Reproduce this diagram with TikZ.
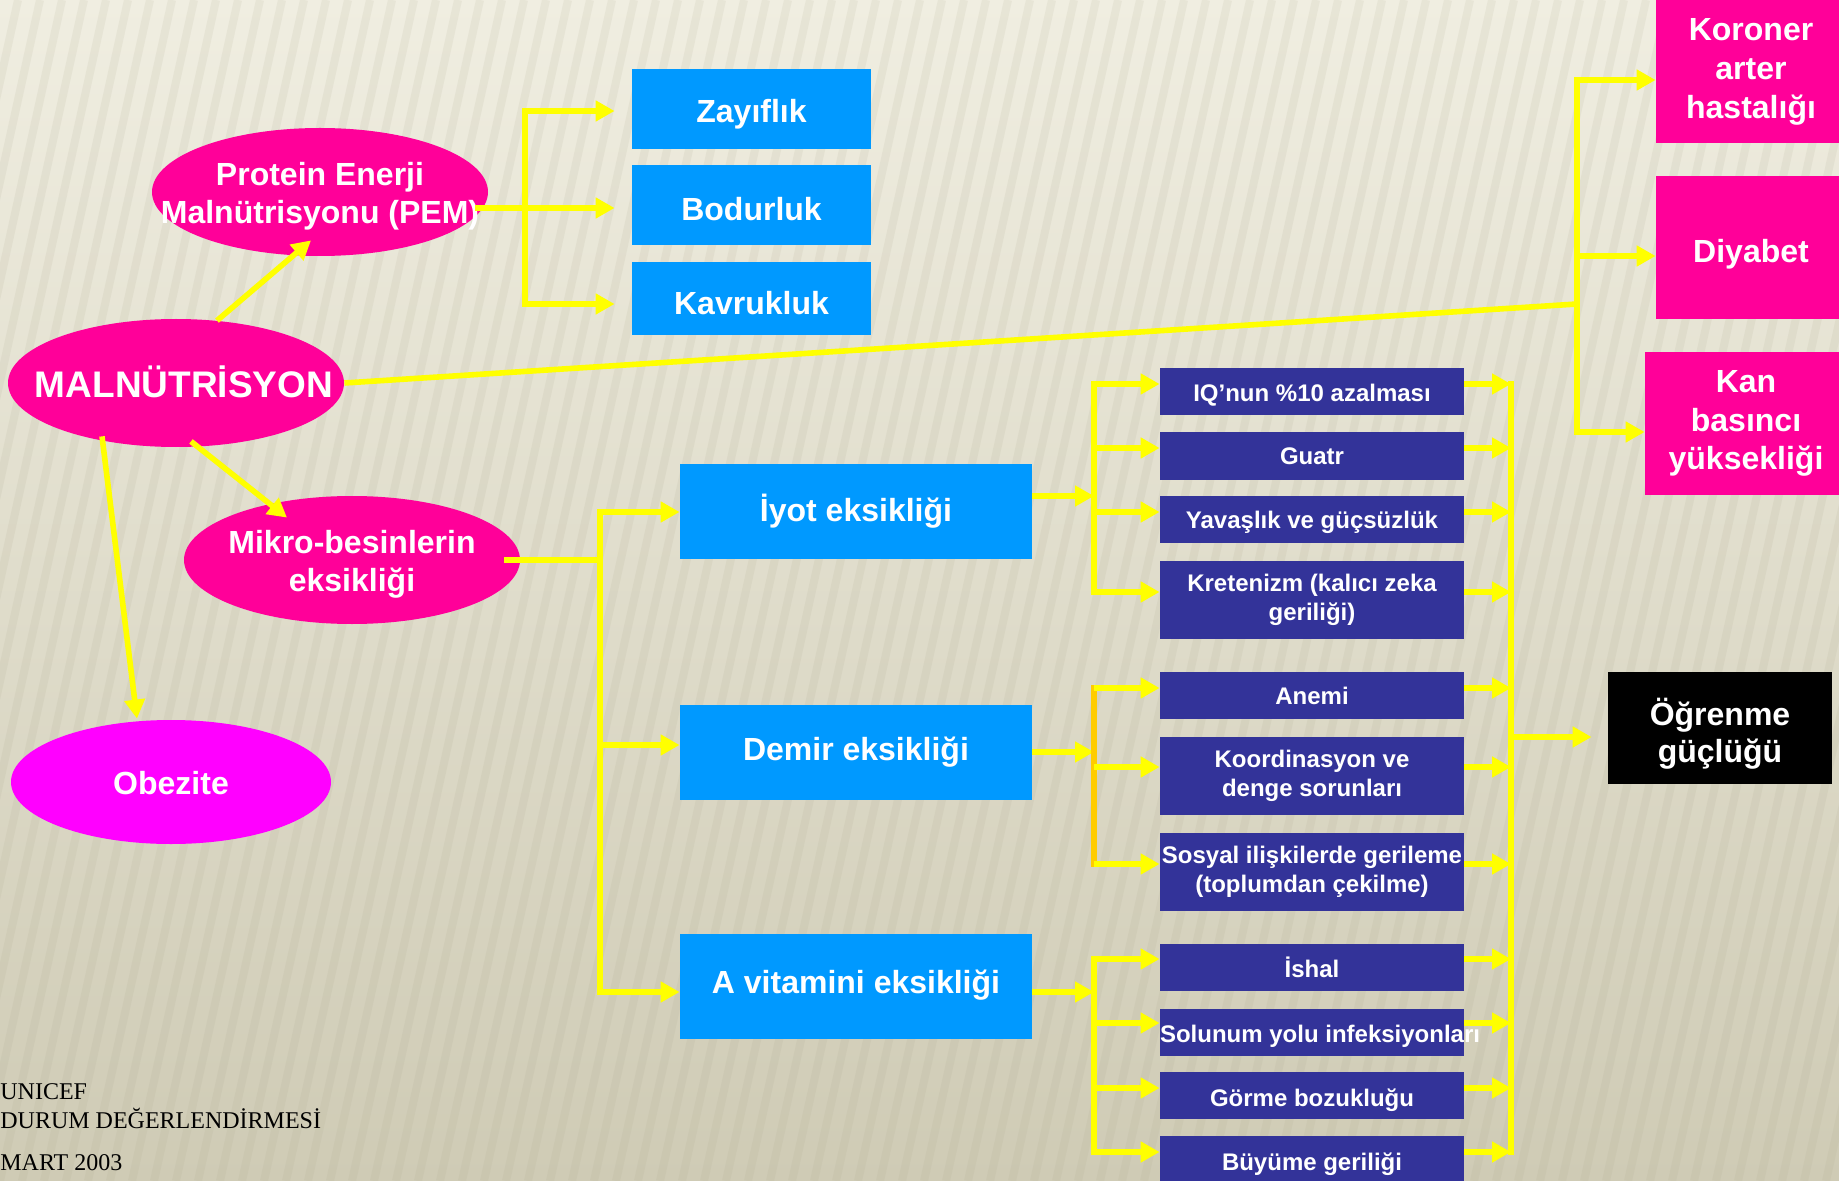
\documentclass[tikz,border=0pt]{standalone}
\usepackage{fontspec}
\setmainfont{Liberation Sans}
\newfontfamily\footserif{Liberation Serif}
\usetikzlibrary{arrows.meta,shapes.geometric,calc}
\definecolor{yel}{HTML}{FFFF00}
\definecolor{orl}{HTML}{FFCC00}
\definecolor{boxblue}{HTML}{0099FF}
\definecolor{navyb}{HTML}{333399}
\definecolor{pinkc}{HTML}{FF0099}
\definecolor{magc}{HTML}{FF00FF}
\definecolor{bgtop}{HTML}{F0EEE1}
\definecolor{bgmid}{HTML}{E5E2D0}
\definecolor{bgbot}{HTML}{CFCBB5}
\definecolor{stripec}{HTML}{A8A48A}
\newcommand\cbx[1]{\makebox[0pt]{\begin{tabular}{@{}c@{}}#1\end{tabular}}}
\newcommand\dn[2]{\raisebox{-#1}[\height][\depth]{#2}}
\newcommand\ebx[1]{\makebox[0pt]{\dn{2.4pt}{\begin{tabular}{@{}c@{}}#1\end{tabular}}}}
\begin{document}
\begin{tikzpicture}[x=0.5pt,y=-0.5pt,
 ln/.style={draw=yel,line width=2.8pt,line cap=rect},
 arr/.style={draw=yel,line width=2.8pt,-{Triangle[length=9.5pt,width=10pt]}},
 bigf/.style={font=\fontsize{16}{19}\selectfont\bfseries},
 bbox/.style={rectangle,fill=boxblue,text=white,inner sep=0pt,bigf},
 nbox/.style={rectangle,fill=navyb,text=white,inner sep=0pt,minimum width=152pt,font=\fontsize{12}{14.5}\selectfont\bfseries},
 pbox/.style={rectangle,fill=pinkc,text=white,inner sep=0pt,align=center,font=\fontsize{16}{19.4}\selectfont\bfseries},
 pell/.style={ellipse,fill=pinkc,text=white,inner sep=0pt,minimum width=168pt,minimum height=64pt,bigf},
 footf/.style={anchor=base west,inner sep=0pt,font=\footserif\fontsize{12}{14}\selectfont}]
\useasboundingbox (0,0) rectangle (1839,1181);
\clip (0,0) rectangle (1839,1181);
% background
\shade[top color=bgtop, middle color=bgmid, bottom color=bgbot] (0,0) rectangle (1839,1181);
\foreach \i in {-15,...,84}{\draw[draw=stripec,line width=4pt,opacity=0.12] (\i*22,1181) -- (\i*22+260,0);}

% ellipses
\node[pell] (pem) at (320,192) {\ebx{Protein Enerji\\Malnütrisyonu (PEM)}};
\node[pell,font=\fontsize{18.5}{22}\selectfont\bfseries] (mal) at (176,383) {\ebx{\hspace{8pt}MALNÜTRİSYON}};
\node[pell] (mik) at (352,560) {\ebx{Mikro-besinlerin\\eksikliği}};
\node[pell,fill=magc,minimum width=160pt,minimum height=62pt] (obe) at (171,782) {\ebx{Obezite\hspace{6pt}}};

% PEM outcomes
\node[bbox,minimum width=119.5pt,minimum height=40pt] (zay) at (751.5,109) {\dn{2.4pt}{Zayıflık}};
\node[bbox,minimum width=119.5pt,minimum height=40pt] (bod) at (751.5,205) {\dn{1.8pt}{Bodurluk}};
\node[bbox,minimum width=119.5pt,minimum height=36.5pt] (kav) at (751.5,298.5) {\dn{2.4pt}{Kavrukluk}};

% micronutrient boxes
\node[bbox,minimum width=176pt,minimum height=47.5pt] (iyot) at (856,511.5) {İyot eksikliği};
\node[bbox,minimum width=176pt,minimum height=47.5pt] (dem) at (856,752.5) {Demir eksikliği};
\node[bbox,minimum width=176pt,minimum height=52.5pt] (avit) at (856,986.5) {\dn{-0.8pt}{A vitamini eksikliği}};

% effects
\node[nbox,minimum height=23.5pt] (iq) at (1312,391.5) {\dn{1.6pt}{IQ’nun \%10 azalması}};
\node[nbox,minimum height=24pt] (gua) at (1312,456) {Guatr};
\node[nbox,minimum height=23.5pt] (yav) at (1312,519.5) {\dn{1.2pt}{Yavaşlık ve güçsüzlük}};
\node[nbox,minimum height=39pt] (kre) at (1312,600) {\cbx{Kretenizm (kalıcı zeka\\geriliği)}};
\node[nbox,minimum height=23.5pt] (ane) at (1312,695.5) {Anemi};
\node[nbox,minimum height=39pt] (koo) at (1312,776) {\cbx{Koordinasyon ve\\denge sorunları}};
\node[nbox,minimum height=39pt] (sos) at (1312,872) {\cbx{Sosyal ilişkilerde gerileme\\(toplumdan çekilme)}};
\node[nbox,minimum height=23.5pt] (ish) at (1312,967.5) {İshal};
\node[nbox,minimum height=23.5pt] (sol) at (1312,1032.5) {\dn{1.7pt}{\makebox[152pt][l]{Solunum yolu infeksiyonları}}};
\node[nbox,minimum height=23.5pt] (gor) at (1312,1095.5) {\dn{2.2pt}{Görme bozukluğu}};
\node[nbox,minimum height=23.5pt] (buy) at (1312,1159.5) {\dn{2.2pt}{Büyüme geriliği}};

% chronic diseases
\node[pbox,minimum width=95pt,minimum height=71pt] (kor) at (1751,72) {Koroner\\arter\\hastalığı};
\fill[pinkc] (kor.north west) rectangle ($(kor.north east)+(0,-30)$);
\node[pbox,minimum width=95pt,minimum height=71.5pt] (dia) at (1751,247.5) {\dn{3.4pt}{Diyabet}};
\node[pbox,minimum width=101pt,minimum height=71.5pt] (kan) at (1746,423.5) {Kan\\basıncı\\yüksekliği};

% learning difficulty
\node[rectangle,fill=black,text=white,inner sep=0pt,minimum width=112pt,minimum height=56pt,font=\fontsize{16}{18.8}\selectfont\bfseries] (ogr) at (1720,728) {\makebox[0pt]{\dn{4pt}{\begin{tabular}{@{}c@{}}Öğrenme\\güçlüğü\end{tabular}}}};

% footer
\node[footf] (f1) at (0,1099) {UNICEF};
\node[footf] (f2) at (0,1128) {DURUM DEĞERLENDİRMESİ};
\node[footf] (f3) at (0,1170) {MART 2003};

% ---- connectors ----
% PEM branch
\coordinate (pv) at (525,208);
\coordinate (pt) at (525,111);
\coordinate (pb) at (525,304);
\draw[ln,line cap=butt] ($(pem.east)+(-13,16)$) -- (pv);
\draw[ln] (pt) -- (pb);
\draw[arr,shorten >=8.5pt] (pt) -- (pt -| zay.west);
\draw[arr,shorten >=8.5pt] (pv) -- (pv -| bod.west);
\draw[arr,shorten >=8.5pt] (pb) -- (pb -| kav.west);

% from MALNÜTRİSYON
\draw[arr] ($(mal.north)+(41,2)$) -- ($(pem.south)+(-9,-16)$);
\draw[arr] ($(mal.south)+(15,-6)$) -- ($(mik.north)+(-65,22)$);
\draw[arr] ($(mal.south)+(-74,-11)$) -- ($(obe.north)+(-34,-1)$);

% chronic branch
\coordinate (jr) at (1577,304);
\coordinate (jt) at (1577,80);
\coordinate (jm) at (1577,256);
\coordinate (jb) at (1577,432);
\draw[ln,line cap=butt] (mal.east) -- (jr);
\draw[ln] (jt) -- (jb);
\draw[arr] (jt) -- (jt -| kor.west);
\draw[arr] (jm) -- (jm -| dia.west);
\draw[arr] (jb) -- (jb -| kan.west);

% micronutrient branch
\coordinate (mv) at (600,560);
\coordinate (mt) at (600,512);
\coordinate (mm) at (600,745);
\coordinate (mb) at (600,992);
\draw[ln,line cap=butt] ($(mik.east)+(-16,0)$) -- (mv);
\draw[ln] (mt) -- (mb);
\draw[arr] (mt) -- (mt -| iyot.west);
\draw[arr] (mm) -- (mm -| dem.west);
\draw[arr] (mb) -- (mb -| avit.west);

% brackets to effects
\coordinate (i0) at (1094,496);
\coordinate (i1) at (1094,384);
\coordinate (i2) at (1094,592);
\coordinate (d0) at (1094,752);
\coordinate (d1) at (1094,688);
\coordinate (d2) at (1094,864);
\coordinate (a0) at (1094,992);
\coordinate (a1) at (1094,959);
\coordinate (a2) at (1094,1152);
\draw[arr] (i0 -| iyot.east) -- (i0);
\draw[arr] (d0 -| dem.east) -- (d0);
\draw[arr] (a0 -| avit.east) -- (a0);
\draw[ln] (i1) -- (i2);
\draw[ln,draw=orl] (d1) -- (d2);
\draw[ln] (a1) -- (a2);

\coordinate (r1) at (1511,384);
\coordinate (r2) at (1511,1152);
\draw[ln] (r1) -- (r2);
\foreach \n/\yy in {iq/384,gua/448,yav/512,kre/592,ane/688,koo/767,sos/864,ish/959,sol/1023,gor/1088,buy/1152}{
  \coordinate (tl) at (1094,\yy);
  \coordinate (tr) at (1511,\yy);
  \draw[arr] (tl) -- (tl -| \n.west);
  \draw[arr] (tr -| \n.east) -- (tr);
}
\coordinate (o0) at (1511,737);
\draw[arr,shorten >=8pt] (o0) -- (o0 -| ogr.west);
\end{tikzpicture}
\end{document}
